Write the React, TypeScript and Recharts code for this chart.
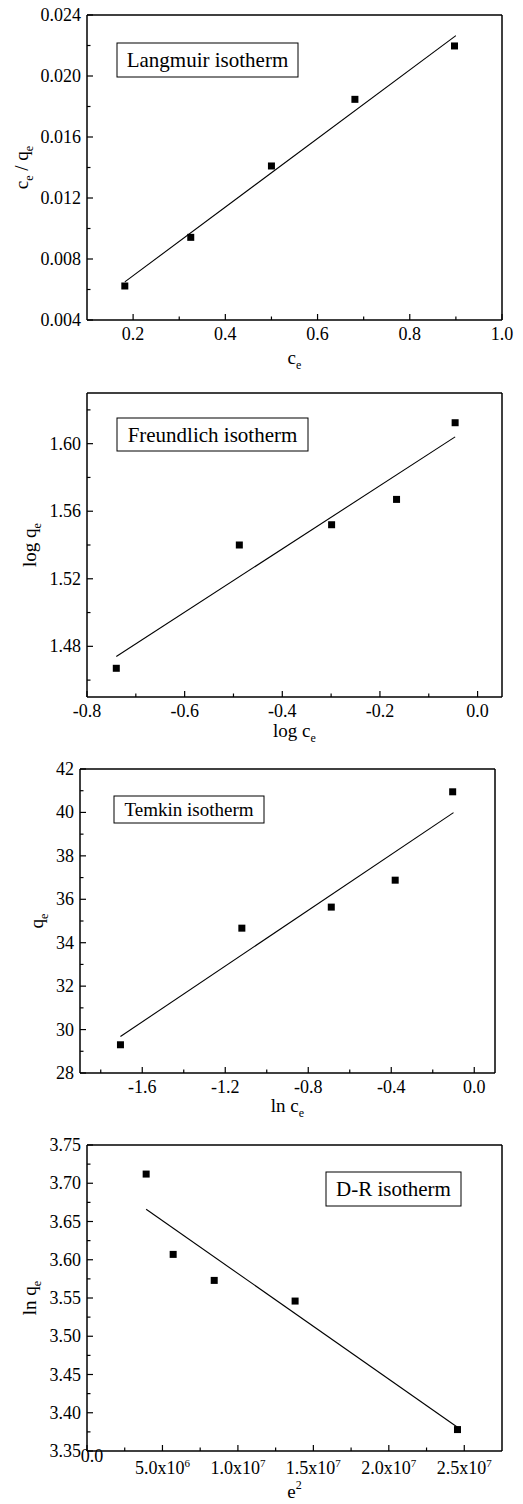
import React from 'react';
import { ScatterChart, Scatter, XAxis, YAxis } from 'recharts';

const FONT = '"Liberation Serif", "Times New Roman", serif';

// Langmuir: c_e vs c_e/q_e
const langmuirX = [0.182, 0.325, 0.5, 0.681, 0.897];
const langmuirY = [0.00623, 0.00942, 0.0141, 0.01847, 0.02197];
const langmuirFitX = [0.182, 0.9];
const langmuirFitY = [0.0065, 0.02265];

// Freundlich: log c_e vs log q_e
const freundlichX = [-0.74, -0.488, -0.299, -0.166, -0.046];
const freundlichY = [1.467, 1.54, 1.552, 1.567, 1.6124];
const freundlichFitX = [-0.74, -0.046];
const freundlichFitY = [1.474, 1.604];

// Temkin: ln c_e vs q_e
const temkinX = [-1.705, -1.12, -0.689, -0.381, -0.104];
const temkinY = [29.3, 34.67, 35.64, 36.88, 40.95];
const temkinFitX = [-1.705, -0.1];
const temkinFitY = [29.68, 39.99];

// D-R: e^2 vs ln q_e
const drX = [3.92e6, 5.71e6, 8.43e6, 1.379e7, 2.455e7];
const drY = [3.712, 3.607, 3.573, 3.546, 3.378];
const drFitX = [3.92e6, 2.455e7];
const drFitY = [3.666, 3.381];

const toPoints = (xs: number[], ys: number[]) => xs.map((x, i) => ({ x, y: ys[i] }));

type Frame = { left: number; top: number; right: number; bottom: number };
type Fmt = (v: number) => string;

interface PanelProps {
  frame: Frame;
  points: { x: number; y: number }[];
  fit: { x: number; y: number }[];
  xDomain: [number, number];
  yDomain: [number, number];
  xMajor: number[];
  xMinor: number[];
  yMajor: number[];
  yMinor: number[];
  xFormat: Fmt;
  yFormat: Fmt;
  sciX?: boolean;
}

const MAJOR = 6;
const MINOR = 3.5;

const Square = (props: any) => {
  const { cx, cy } = props;
  if (cx == null || cy == null) return <g />;
  return <rect x={cx - 3.5} y={cy - 3.5} width={7} height={7} fill="#000" />;
};

const NoDot = () => <g />;

const isMajor = (list: number[], v: number) => list.some((m) => Math.abs(m - v) < 1e-9 * Math.max(1, Math.abs(m)));

// bottom axis tick: inward line + label
const makeXTick = (majors: number[], fmt: Fmt, sci: boolean) => (props: any) => {
  const { x, y, payload } = props;
  const v = payload.value as number;
  const major = isMajor(majors, v);
  let label: React.ReactNode = null;
  if (major) {
    if (sci) {
      if (v === 0) {
        label = (
          <text x={x + 5} y={y + 11} textAnchor="middle" fill="#000" fontSize={18} fontFamily={FONT}>
            0.0
          </text>
        );
      } else {
        const exp = Math.floor(Math.log10(v));
        const mant = (v / Math.pow(10, exp)).toFixed(1);
        label = (
          <text x={x} y={y + 23} textAnchor="middle" fill="#000" fontSize={18} fontFamily={FONT}>
            {mant}x10
            <tspan dy={-7.5} fontSize={11}>
              {exp}
            </tspan>
          </text>
        );
      }
    } else {
      label = (
        <text x={x} y={y + 20} textAnchor="middle" fill="#000" fontSize={18} fontFamily={FONT}>
          {fmt(v)}
        </text>
      );
    }
  }
  return (
    <g>
      <line x1={x} y1={y} x2={x} y2={y - (major ? MAJOR : MINOR)} stroke="#000" strokeWidth={1.2} />
      {label}
    </g>
  );
};

// left axis tick: inward line + label
const makeYTick = (majors: number[], fmt: Fmt) => (props: any) => {
  const { x, y, payload } = props;
  const v = payload.value as number;
  const major = isMajor(majors, v);
  return (
    <g>
      <line x1={x} y1={y} x2={x + (major ? MAJOR : MINOR)} y2={y} stroke="#000" strokeWidth={1.2} />
      {major && (
        <text x={x - 6} y={y + 6} textAnchor="end" fill="#000" fontSize={18} fontFamily={FONT}>
          {fmt(v)}
        </text>
      )}
    </g>
  );
};

const PAD_TOP = 15;
const Y_AXIS_W = 60;
const X_AXIS_H = 40;
const PAD_BOTTOM = 20;
const PAGE_W = 523;

function Panel(p: PanelProps) {
  const { frame } = p;
  const height = frame.bottom - frame.top + PAD_TOP + X_AXIS_H + PAD_BOTTOM;
  const xTicks = [...p.xMajor, ...p.xMinor].sort((a, b) => a - b);
  const yTicks = [...p.yMajor, ...p.yMinor].sort((a, b) => a - b);
  return (
    <div style={{ position: 'absolute', left: 0, top: frame.top - PAD_TOP, width: PAGE_W, height }}>
      <ScatterChart
        width={PAGE_W}
        height={height}
        margin={{ top: PAD_TOP, right: PAGE_W - frame.right, bottom: PAD_BOTTOM, left: frame.left - Y_AXIS_W }}
      >
        <XAxis
          type="number"
          dataKey="x"
          domain={p.xDomain}
          allowDataOverflow
          ticks={xTicks}
          interval={0}
          height={X_AXIS_H}
          tickSize={0}
          tickMargin={0}
          tickLine={false}
          tick={makeXTick(p.xMajor, p.xFormat, !!p.sciX)}
          axisLine={{ stroke: '#000', strokeWidth: 1.5 }}
        />
        <YAxis
          type="number"
          dataKey="y"
          domain={p.yDomain}
          allowDataOverflow
          ticks={yTicks}
          interval={0}
          width={Y_AXIS_W}
          tickSize={0}
          tickMargin={0}
          tickLine={false}
          tick={makeYTick(p.yMajor, p.yFormat)}
          axisLine={{ stroke: '#000', strokeWidth: 1.5 }}
        />
        {/* frame top / right */}
        <XAxis xAxisId="top" orientation="top" type="number" mirror domain={p.xDomain} allowDataOverflow
          tick={false} tickLine={false} axisLine={{ stroke: '#000', strokeWidth: 1.5 }} />
        <YAxis yAxisId="right" orientation="right" type="number" mirror domain={p.yDomain} allowDataOverflow
          tick={false} tickLine={false} axisLine={{ stroke: '#000', strokeWidth: 1.5 }} />
        <Scatter data={p.fit} line={{ stroke: '#000', strokeWidth: 1.1 }} shape={NoDot} isAnimationActive={false} />
        <Scatter data={p.points} shape={Square} isAnimationActive={false} />
      </ScatterChart>
    </div>
  );
}

const Sub = ({ children }: { children: React.ReactNode }) => (
  <tspan fontSize={12} dy={5}>
    {children}
  </tspan>
);

const frames: Frame[] = [
  { left: 87, top: 15, right: 502, bottom: 320 },
  { left: 87, top: 393, right: 502, bottom: 697 },
  { left: 80, top: 769, right: 495, bottom: 1073 },
  { left: 87, top: 1145, right: 502, bottom: 1451 },
];

const notes = [
  { text: 'Langmuir isotherm', left: 117, top: 43, width: 181, height: 34, size: 21 },
  { text: 'Freundlich isotherm', left: 117, top: 418, width: 191, height: 33, size: 21 },
  { text: 'Temkin isotherm', left: 114, top: 796, width: 150, height: 27, size: 19 },
  { text: 'D-R isotherm', left: 326, top: 1172, width: 135, height: 34, size: 21 },
];

export default function App() {
  const f = frames;
  const title = { fill: '#000', fontSize: 19, fontFamily: FONT };
  const yTitle = (x: number, fr: Frame, content: React.ReactNode) => {
    const cy = (fr.top + fr.bottom) / 2;
    return (
      <text x={x} y={cy} textAnchor="middle" transform={`rotate(-90 ${x} ${cy})`} {...title}>
        {content}
      </text>
    );
  };
  const xTitle = (fr: Frame, gap: number, content: React.ReactNode) => (
    <text x={(fr.left + fr.right) / 2} y={fr.bottom + gap} textAnchor="middle" {...title}>
      {content}
    </text>
  );
  return (
    <div style={{ position: 'absolute', left: 0, top: 0, width: PAGE_W, height: 1504, background: '#fff', fontFamily: FONT }}>
      <Panel
        frame={f[0]}
        points={toPoints(langmuirX, langmuirY)}
        fit={toPoints(langmuirFitX, langmuirFitY)}
        xDomain={[0.1, 1.0]}
        yDomain={[0.004, 0.024]}
        xMajor={[0.2, 0.4, 0.6, 0.8, 1.0]}
        xMinor={[0.3, 0.5, 0.7, 0.9]}
        yMajor={[0.004, 0.008, 0.012, 0.016, 0.02, 0.024]}
        yMinor={[0.006, 0.01, 0.014, 0.018, 0.022]}
        xFormat={(v) => v.toFixed(1)}
        yFormat={(v) => v.toFixed(3)}
      />
      <Panel
        frame={f[1]}
        points={toPoints(freundlichX, freundlichY)}
        fit={toPoints(freundlichFitX, freundlichFitY)}
        xDomain={[-0.8, 0.05]}
        yDomain={[1.45, 1.63]}
        xMajor={[-0.8, -0.6, -0.4, -0.2, 0.0]}
        xMinor={[-0.7, -0.5, -0.3, -0.1]}
        yMajor={[1.48, 1.52, 1.56, 1.6]}
        yMinor={[1.46, 1.5, 1.54, 1.58, 1.62]}
        xFormat={(v) => v.toFixed(1)}
        yFormat={(v) => v.toFixed(2)}
      />
      <Panel
        frame={f[2]}
        points={toPoints(temkinX, temkinY)}
        fit={toPoints(temkinFitX, temkinFitY)}
        xDomain={[-1.9, 0.1]}
        yDomain={[28, 42]}
        xMajor={[-1.6, -1.2, -0.8, -0.4, 0.0]}
        xMinor={[-1.8, -1.4, -1.0, -0.6, -0.2]}
        yMajor={[28, 30, 32, 34, 36, 38, 40, 42]}
        yMinor={[29, 31, 33, 35, 37, 39, 41]}
        xFormat={(v) => v.toFixed(1)}
        yFormat={(v) => String(v)}
      />
      <Panel
        frame={f[3]}
        points={toPoints(drX, drY)}
        fit={toPoints(drFitX, drFitY)}
        xDomain={[0, 2.75e7]}
        yDomain={[3.35, 3.75]}
        xMajor={[0, 5e6, 1e7, 1.5e7, 2e7, 2.5e7]}
        xMinor={[2.5e6, 7.5e6, 1.25e7, 1.75e7, 2.25e7]}
        yMajor={[3.35, 3.4, 3.45, 3.5, 3.55, 3.6, 3.65, 3.7, 3.75]}
        yMinor={[3.375, 3.425, 3.475, 3.525, 3.575, 3.625, 3.675, 3.725]}
        xFormat={(v) => String(v)}
        yFormat={(v) => v.toFixed(2)}
        sciX
      />
      <svg width={PAGE_W} height={1504} style={{ position: 'absolute', left: 0, top: 0, pointerEvents: 'none' }}>
        {/* axis titles */}
        {xTitle(f[0], 44, <>c<Sub>e</Sub></>)}
        {yTitle(28, f[0], <>c<Sub>e</Sub><tspan dy={-5}> / q</tspan><Sub>e</Sub></>)}
        {xTitle(f[1], 40, <>log c<Sub>e</Sub></>)}
        {yTitle(36, f[1], <>log q<Sub>e</Sub></>)}
        {xTitle(f[2], 39, <>ln c<Sub>e</Sub></>)}
        {yTitle(43, f[2], <>q<Sub>e</Sub></>)}
        {xTitle(f[3], 47, <>e<tspan fontSize={12} dy={-9}>2</tspan></>)}
        {yTitle(36, f[3], <>ln q<Sub>e</Sub></>)}
        {/* isotherm name boxes */}
        {notes.map((n) => (
          <g key={n.text}>
            <rect x={n.left} y={n.top} width={n.width} height={n.height} fill="#fff" stroke="#000" strokeWidth={1} />
            <text
              x={n.left + n.width / 2}
              y={n.top + n.height / 2}
              dominantBaseline="central"
              textAnchor="middle"
              fill="#000"
              fontSize={n.size}
              fontFamily={FONT}
            >
              {n.text}
            </text>
          </g>
        ))}
      </svg>
    </div>
  );
}
